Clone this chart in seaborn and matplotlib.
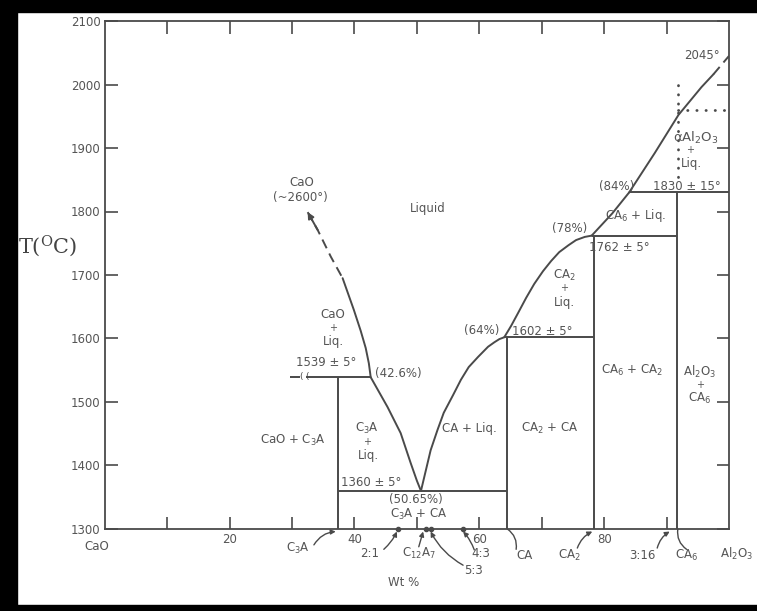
import matplotlib
matplotlib.use("Agg")
import matplotlib.pyplot as plt
from matplotlib.patches import Rectangle
import seaborn as sns

# ---- liquidus branches: wt% Al2O3 vs temperature (°C) ----
cao_liq_ext_w = [32.5, 34.1, 36.2, 38.1]
cao_liq_ext_t = [1799, 1771, 1729, 1695]
cao_liq_w = [38.1, 39.9, 41.0, 41.8, 42.3, 42.6]
cao_liq_t = [1695, 1645, 1612, 1585, 1561, 1539]
c3a_liq_w = [42.6, 45.3, 47.4, 49.0, 50.0, 50.65]
c3a_liq_t = [1539, 1492, 1451, 1404, 1376, 1360]
ca_liq_w = [50.65, 52.2, 53.3, 54.3, 55.8, 57.05, 58.3, 59.8, 61.4, 62.4, 63.2, 64.0]
ca_liq_t = [1360, 1424, 1456, 1483, 1511, 1535, 1555, 1571, 1587, 1594, 1599, 1602]
ca2_liq_w = [64.0, 65.1, 66.2, 67.5, 68.8, 70.2, 71.5, 72.8, 74.3, 75.5, 76.9, 78.0]
ca2_liq_t = [1602, 1620, 1640, 1664, 1686, 1706, 1722, 1736, 1747, 1755, 1760, 1762]
ca6_liq_w = [78.0, 81.3, 84.0]
ca6_liq_t = [1762, 1797, 1830]
al_liq_w = [84.0, 88.1, 91.9, 95.6, 97.5]
al_liq_t = [1830, 1892, 1952, 1996, 2016]
al_liq_ext_w = [97.5, 100.0]
al_liq_ext_t = [2016, 2045]

# ---- invariant (horizontal) lines ----
inv_t = [1539, 1360, 1602, 1762, 1830]
inv_w0 = [32.3, 37.3, 64.0, 78.0, 84.0]
inv_w1 = [42.6, 64.5, 78.4, 91.6, 100.0]
inv_text = ["1539 ± 5°", "1360 ± 5°", "1602 ± 5°", "1762 ± 5°", "1830 ± 15°"]

# ---- compounds ----
solid_w = [37.3, 64.5, 78.4, 91.6]          # C3A, CA, CA2, CA6 lines
solid_top = [1539, 1602, 1762, 1830]
minor_cmp_w = [46.9, 51.5, 52.2, 57.4]      # 2:1, C12A7, 5:3, 4:3

# alpha-Al2O3 dotted boundaries
alpha_w = 91.9
alpha_t = [1855, 2007]
alpha_h_t = 1960

# axis tick labels
x_ticks = [10, 20, 30, 40, 50, 60, 70, 80, 90]
x_tick_labels = ["", "20", "", "40", "", "60", "", "80", ""]
y_ticks = [1300, 1400, 1500, 1600, 1700, 1800, 1900, 2000, 2100]

sns.set_theme(style="white")
plt.rcParams["font.family"] = ["DejaVu Sans"]
plt.rcParams["mathtext.fontset"] = "dejavusans"

LC = "#4a4a4a"
TC = "#555555"
FS = 8.5

fig = plt.figure(figsize=(7.57, 6.11), dpi=100)
fig.patch.set_facecolor("white")
ax = fig.add_axes([104.8 / 757, 82 / 611, (729 - 104.8) / 757, 508 / 611])
ax.set_facecolor("white")
ax.set_xlim(0, 100)
ax.set_ylim(1300, 2100)

lw = 1.4
solid_branches = [(cao_liq_w, cao_liq_t), (c3a_liq_w, c3a_liq_t), (ca_liq_w, ca_liq_t),
                  (ca2_liq_w, ca2_liq_t), (ca6_liq_w, ca6_liq_t), (al_liq_w, al_liq_t)]
for bw, bt in solid_branches:
    sns.lineplot(x=bw, y=bt, ax=ax, color=LC, lw=lw, estimator=None, sort=False)
for bw, bt in [(cao_liq_ext_w, cao_liq_ext_t), (al_liq_ext_w, al_liq_ext_t)]:
    sns.lineplot(x=bw, y=bt, ax=ax, color=LC, lw=lw, estimator=None, sort=False,
                 linestyle=(0, (5, 3)))

# arrowhead toward the CaO melting point
ax.annotate("", xy=(cao_liq_ext_w[0], cao_liq_ext_t[0]),
            xytext=(cao_liq_ext_w[1], cao_liq_ext_t[1]),
            arrowprops=dict(arrowstyle="-|>", color=LC, lw=lw, mutation_scale=9,
                            shrinkA=0, shrinkB=0))

# invariants
for t, w0, w1 in zip(inv_t, inv_w0, inv_w1):
    ax.hlines(t, w0, w1, color=LC, lw=lw)
# broken stub left of the 1539 line
ax.hlines(inv_t[0], 29.7, 31.3, color=LC, lw=lw)
ax.text(31.45, inv_t[0] + 1, "(", color=LC, fontsize=6.5, ha="center", va="center")
ax.text(32.35, inv_t[0] + 1, "(", color=LC, fontsize=6.5, ha="center", va="center")

# compound lines
for w, top in zip(solid_w, solid_top):
    ax.vlines(w, 1300, top, color=LC, lw=lw)

# alpha-Al2O3 dotted lines
ax.plot([alpha_w, alpha_w], alpha_t, color=LC, lw=2.0, linestyle=(0, (0.1, 3.2)),
        dash_capstyle="round")
ax.plot([alpha_w, 100], [alpha_h_t, alpha_h_t], color=LC, lw=2.0,
        linestyle=(0, (0.1, 3.2)), dash_capstyle="round")

# field labels
def lab(x, y, s, fs=FS, **kw):
    ax.text(x, y, s, color=TC, fontsize=fs, ha="center", va="center", **kw)

lab(31.5, 1845, "CaO")
lab(31.4, 1822, "(~2600°)")
lab(51.8, 1804, "Liquid")
lab(36.5, 1638, "CaO")
lab(36.5, 1617, "+", fs=7)
lab(36.6, 1596, "Liq.")
lab(35.4, 1562, inv_text[0])
lab(47.0, 1545, "(42.6%)")
lab(30.1, 1440, "CaO + C$_3$A")
lab(42.0, 1459, "C$_3$A")
lab(42.0, 1437, "+", fs=7)
lab(42.3, 1416, "Liq.")
lab(42.6, 1374, inv_text[1])
lab(49.8, 1346, "(50.65%)")
lab(50.3, 1323, "C$_3$A + CA")
lab(58.4, 1459, "CA + Liq.")
lab(71.2, 1459, "CA$_2$ + CA")
lab(60.3, 1612, "(64%)")
lab(70.1, 1611, inv_text[2])
lab(73.6, 1700, "CA$_2$")
lab(73.6, 1680, "+", fs=7)
lab(73.6, 1657, "Liq.")
lab(74.4, 1774, "(78%)")
lab(82.5, 1744, inv_text[3])
lab(85.0, 1794, "CA$_6$ + Liq.")
lab(82.0, 1840, "(84%)")
lab(93.2, 1840, inv_text[4])
lab(94.6, 1916, "αAl$_2$O$_3$", fs=9.5)
lab(93.7, 1897, "+", fs=7)
lab(94.0, 1876, "Liq.")
lab(95.6, 2046, "2045°")
lab(84.5, 1550, "CA$_6$ + CA$_2$")
lab(95.2, 1548, "Al$_2$O$_3$")
lab(95.3, 1527, "+", fs=7)
lab(95.3, 1505, "CA$_6$")

# compound labels under the axis
bot = [(-1.3, 1272, "CaO"), (31.0, 1270, "C$_3$A"), (42.5, 1262, "2:1"),
       (50.3, 1261, "C$_{12}$A$_7$"), (59.1, 1235, "5:3"), (60.3, 1262, "4:3"),
       (67.2, 1259, "CA"), (74.4, 1259, "CA$_2$"), (86.1, 1259, "3:16"),
       (93.2, 1259, "CA$_6$"), (101.2, 1261, "Al$_2$O$_3$"), (47.9, 1216, "Wt %")]
for x, y, s in bot:
    ax.text(x, y, s, color=TC, fontsize=FS, ha="center", va="center", clip_on=False)

# arrows pointing to compound compositions
arrows = [((33.5, 1275), (37.0, 1296), -0.25, True),
          ((44.7, 1268), (46.8, 1296), 0.1, True),
          ((50.3, 1272), (51.0, 1296), 0.0, True),
          ((57.4, 1243), (52.2, 1296), -0.15, True),
          ((59.2, 1267), (57.4, 1296), 0.1, True),
          ((65.9, 1268), (64.5, 1300), 0.3, False),
          ((75.7, 1270), (78.1, 1296), -0.2, True),
          ((88.5, 1270), (90.5, 1296), -0.2, True),
          ((93.2, 1268), (91.8, 1300), -0.3, False)]
for tail, tip, rad, head in arrows:
    ax.annotate("", xy=tip, xytext=tail, annotation_clip=False,
                arrowprops=dict(arrowstyle="-|>" if head else "-", color=LC, lw=1.0,
                                mutation_scale=7, shrinkA=0, shrinkB=0,
                                connectionstyle=f"arc3,rad={rad}"))
ax.scatter(minor_cmp_w, [1300] * len(minor_cmp_w), s=9, color=LC, clip_on=False, zorder=5)

# axes, ticks
for sp in ax.spines.values():
    sp.set_color(LC)
    sp.set_linewidth(1.3)
ax.set_xticks(x_ticks)
ax.set_xticklabels(x_tick_labels)
ax.set_yticks(y_ticks)
ax.set_yticklabels([str(v) for v in y_ticks])
ax.tick_params(axis="both", direction="in", length=9, width=1.2, color=LC,
               labelcolor=TC, labelsize=FS, top=True, right=True, bottom=True, left=True)
ax.tick_params(axis="x", pad=3)
ax.tick_params(axis="y", pad=3)
ax.set_xlabel("")
ax.set_ylabel("")

fig.text(48 / 757, 1 - 246 / 611, "T($^{\\mathrm{O}}$C)", fontsize=15, color="#444444",
         family="DejaVu Serif", math_fontfamily="dejavuserif", ha="center", va="center")

# black scan border
fig.patches.append(Rectangle((0, 0), 17 / 757, 1, transform=fig.transFigure,
                             color="black", zorder=10))
fig.patches.append(Rectangle((0, 1 - 12 / 611), 1, 12 / 611, transform=fig.transFigure,
                             color="black", zorder=10))
fig.patches.append(Rectangle((0, 0), 1, 6 / 611, transform=fig.transFigure,
                             color="black", zorder=10))

fig.savefig("out.png", dpi=100)
